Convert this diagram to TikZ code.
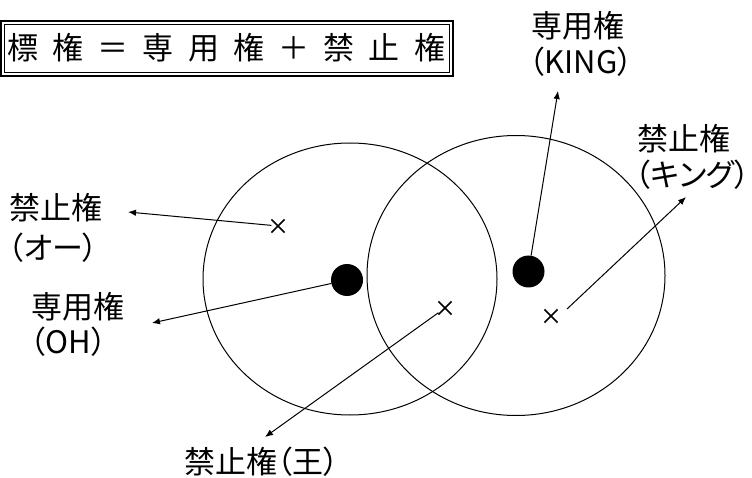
\documentclass[tikz,border=0pt]{standalone}
\usepackage{fontspec}
\newfontfamily\jp[RawFeature=+palt]{Noto Sans CJK JP}
\newfontfamily\jpt{Noto Sans CJK JP}
\usetikzlibrary{arrows.meta,shapes.misc,shapes.geometric}
\newcommand\tch[1]{\makebox[45.2pt]{#1}}
\begin{document}
\begin{tikzpicture}[x=1pt,y=-1pt,
  lbl/.style={font=\jp\fontsize{31}{36}\selectfont, inner sep=0pt, anchor=base west},
  arr/.style={line width=1pt, -{Latex[length=8pt,width=6.5pt]}},
  xm/.style={cross out, draw, line width=1.6pt, minimum size=11.5pt, inner sep=0pt},
  blackdot/.style={circle, fill=black, minimum size=32pt, inner sep=0pt},
  ring/.style={ellipse, draw, line width=1pt, inner sep=0pt}]
\useasboundingbox (0,0) rectangle (752,478);
% title box
\draw[line width=1.6pt] (0.8,20.8) rectangle (453,76);
\draw[line width=0.8pt] (4.5,24.5) rectangle (449.3,72.5);
\node[font=\jpt\fontsize{31}{36}\selectfont, inner sep=0pt, anchor=base west] (title) at (0,59.5)
  {\tch{標}\tch{権}\tch{＝}\tch{専}\tch{用}\tch{権}\tch{＋}\tch{禁}\tch{止}\tch{権}};
% circles
\node[ring, minimum width=294pt, minimum height=272pt] (cL) at (350,279) {};
\node[ring, minimum width=298pt, minimum height=280pt] (cR) at (516,275.5) {};
% dots and marks
\node[blackdot] (dL) at (347,280) {};
\node[blackdot] (dR) at (528.5,271.5) {};
\node[xm] (x1) at (278,226) {};
\node[xm] (x2) at (445,308) {};
\node[xm] (x3) at (551,316) {};
% labels
\node[lbl] (l1a) at (9,219.3) {禁止権};
\node[lbl] (l1b) at (8,259.3) {（オー）};
\node[lbl] (l2a) at (31,318.3) {専用権};
\node[lbl] (l2b) at (30,353.8) {（OH）};
\node[lbl] (r1a) at (531,37.8) {専用権};
\node[lbl] (r1b) at (529,73.8) {（KING）};
\node[lbl] (r2a) at (637,150.8) {禁止権};
\node[lbl] (r2b) at (635,186.8) {（キング）};
\node[lbl] (b1) at (184,473.3) {禁止権（王）};
% arrow ends
\coordinate (t1) at (128,212);
\coordinate (t2) at (152,323);
\coordinate (t3) at (265,437);
\coordinate (t4) at (558,91);
\coordinate (t5) at (686,197);
\coordinate (s5) at (567,309);
\draw[arr] (x1) -- (t1);
\draw[arr] (dL) -- (t2);
\draw[arr] (x2) -- (t3);
\draw[arr] (dR) -- (t4);
\draw[arr] (s5) -- (t5);
\end{tikzpicture}
\end{document}
